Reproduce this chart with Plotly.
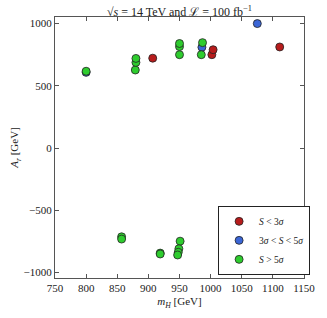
import plotly.graph_objects as go

# S < 3 sigma
red_x = [907, 1002, 1004, 1111]
red_y = [722, 750, 790, 812]
# 3 sigma < S < 5 sigma
blue_x = [800, 986, 1075]
blue_y = [608, 810, 1000]
# S > 5 sigma
green_x = [800, 879, 880, 880, 950, 950, 950, 985, 987,
           857, 857, 919, 919, 951, 949, 948, 947]
green_y = [617, 627, 688, 720, 750, 815, 840, 750, 847,
           -714, -732, -845, -852, -749, -810, -838, -860]

x_ticks = [750, 800, 850, 900, 950, 1000, 1050, 1100, 1150]
y_ticks = [-1000, -500, 0, 500, 1000]

FONT = "Liberation Serif"

fig = go.Figure()
series = [
    (red_x, red_y, "#b71c1c", "<i>S</i> &lt; 3<i>σ</i>"),
    (blue_x, blue_y, "#3b66d6", "3<i>σ</i> &lt; <i>S</i> &lt; 5<i>σ</i>"),
    (green_x, green_y, "#2ecc2e", "<i>S</i> &gt; 5<i>σ</i>"),
]
for xs, ys, col, name in series:
    fig.add_trace(go.Scatter(
        x=xs, y=ys, mode="markers", name=name,
        marker=dict(color=col, size=8, line=dict(color="#222222", width=0.8)),
    ))

axis_common = dict(
    showgrid=False, zeroline=False, showline=True, linecolor="#555555",
    linewidth=1, mirror="ticks", ticks="inside", ticklen=4, tickcolor="#555555",
    tickfont=dict(family=FONT, size=11, color="#222222"),
)
fig.update_xaxes(range=[750, 1150], tickvals=x_ticks,
                 title=dict(text="<i>m<sub>H</sub></i> [GeV]", standoff=4,
                            font=dict(family=FONT, size=11, color="#222222")),
                 **axis_common)
fig.update_yaxes(range=[-1045, 1053], tickvals=y_ticks,
                 title=dict(text="<i>A<sub>r</sub></i> [GeV]", standoff=2,
                            font=dict(family=FONT, size=11, color="#222222")),
                 **axis_common)

fig.update_layout(
    width=327, height=318,
    margin=dict(l=55, r=16, t=17, b=36),
    paper_bgcolor="white", plot_bgcolor="white",
    title=dict(text="√<i>s</i> = 14 TeV and ℒ = 100 fb<sup>−1</sup>",
               x=0.5, xref="paper", xanchor="center", y=1, yref="paper",
               yanchor="bottom", pad=dict(b=1),
               font=dict(family=FONT, size=12, color="#222222")),
    showlegend=True,
    legend=dict(x=0.655, y=0.012, xanchor="left", yanchor="bottom",
                bordercolor="#222222", borderwidth=1, bgcolor="white",
                font=dict(family=FONT, size=9.5, color="#222222"),
                tracegroupgap=0, itemwidth=30),
)

fig.write_html("out.html", config={"displayModeBar": False},
               post_script="document.body.style.margin='0';")
